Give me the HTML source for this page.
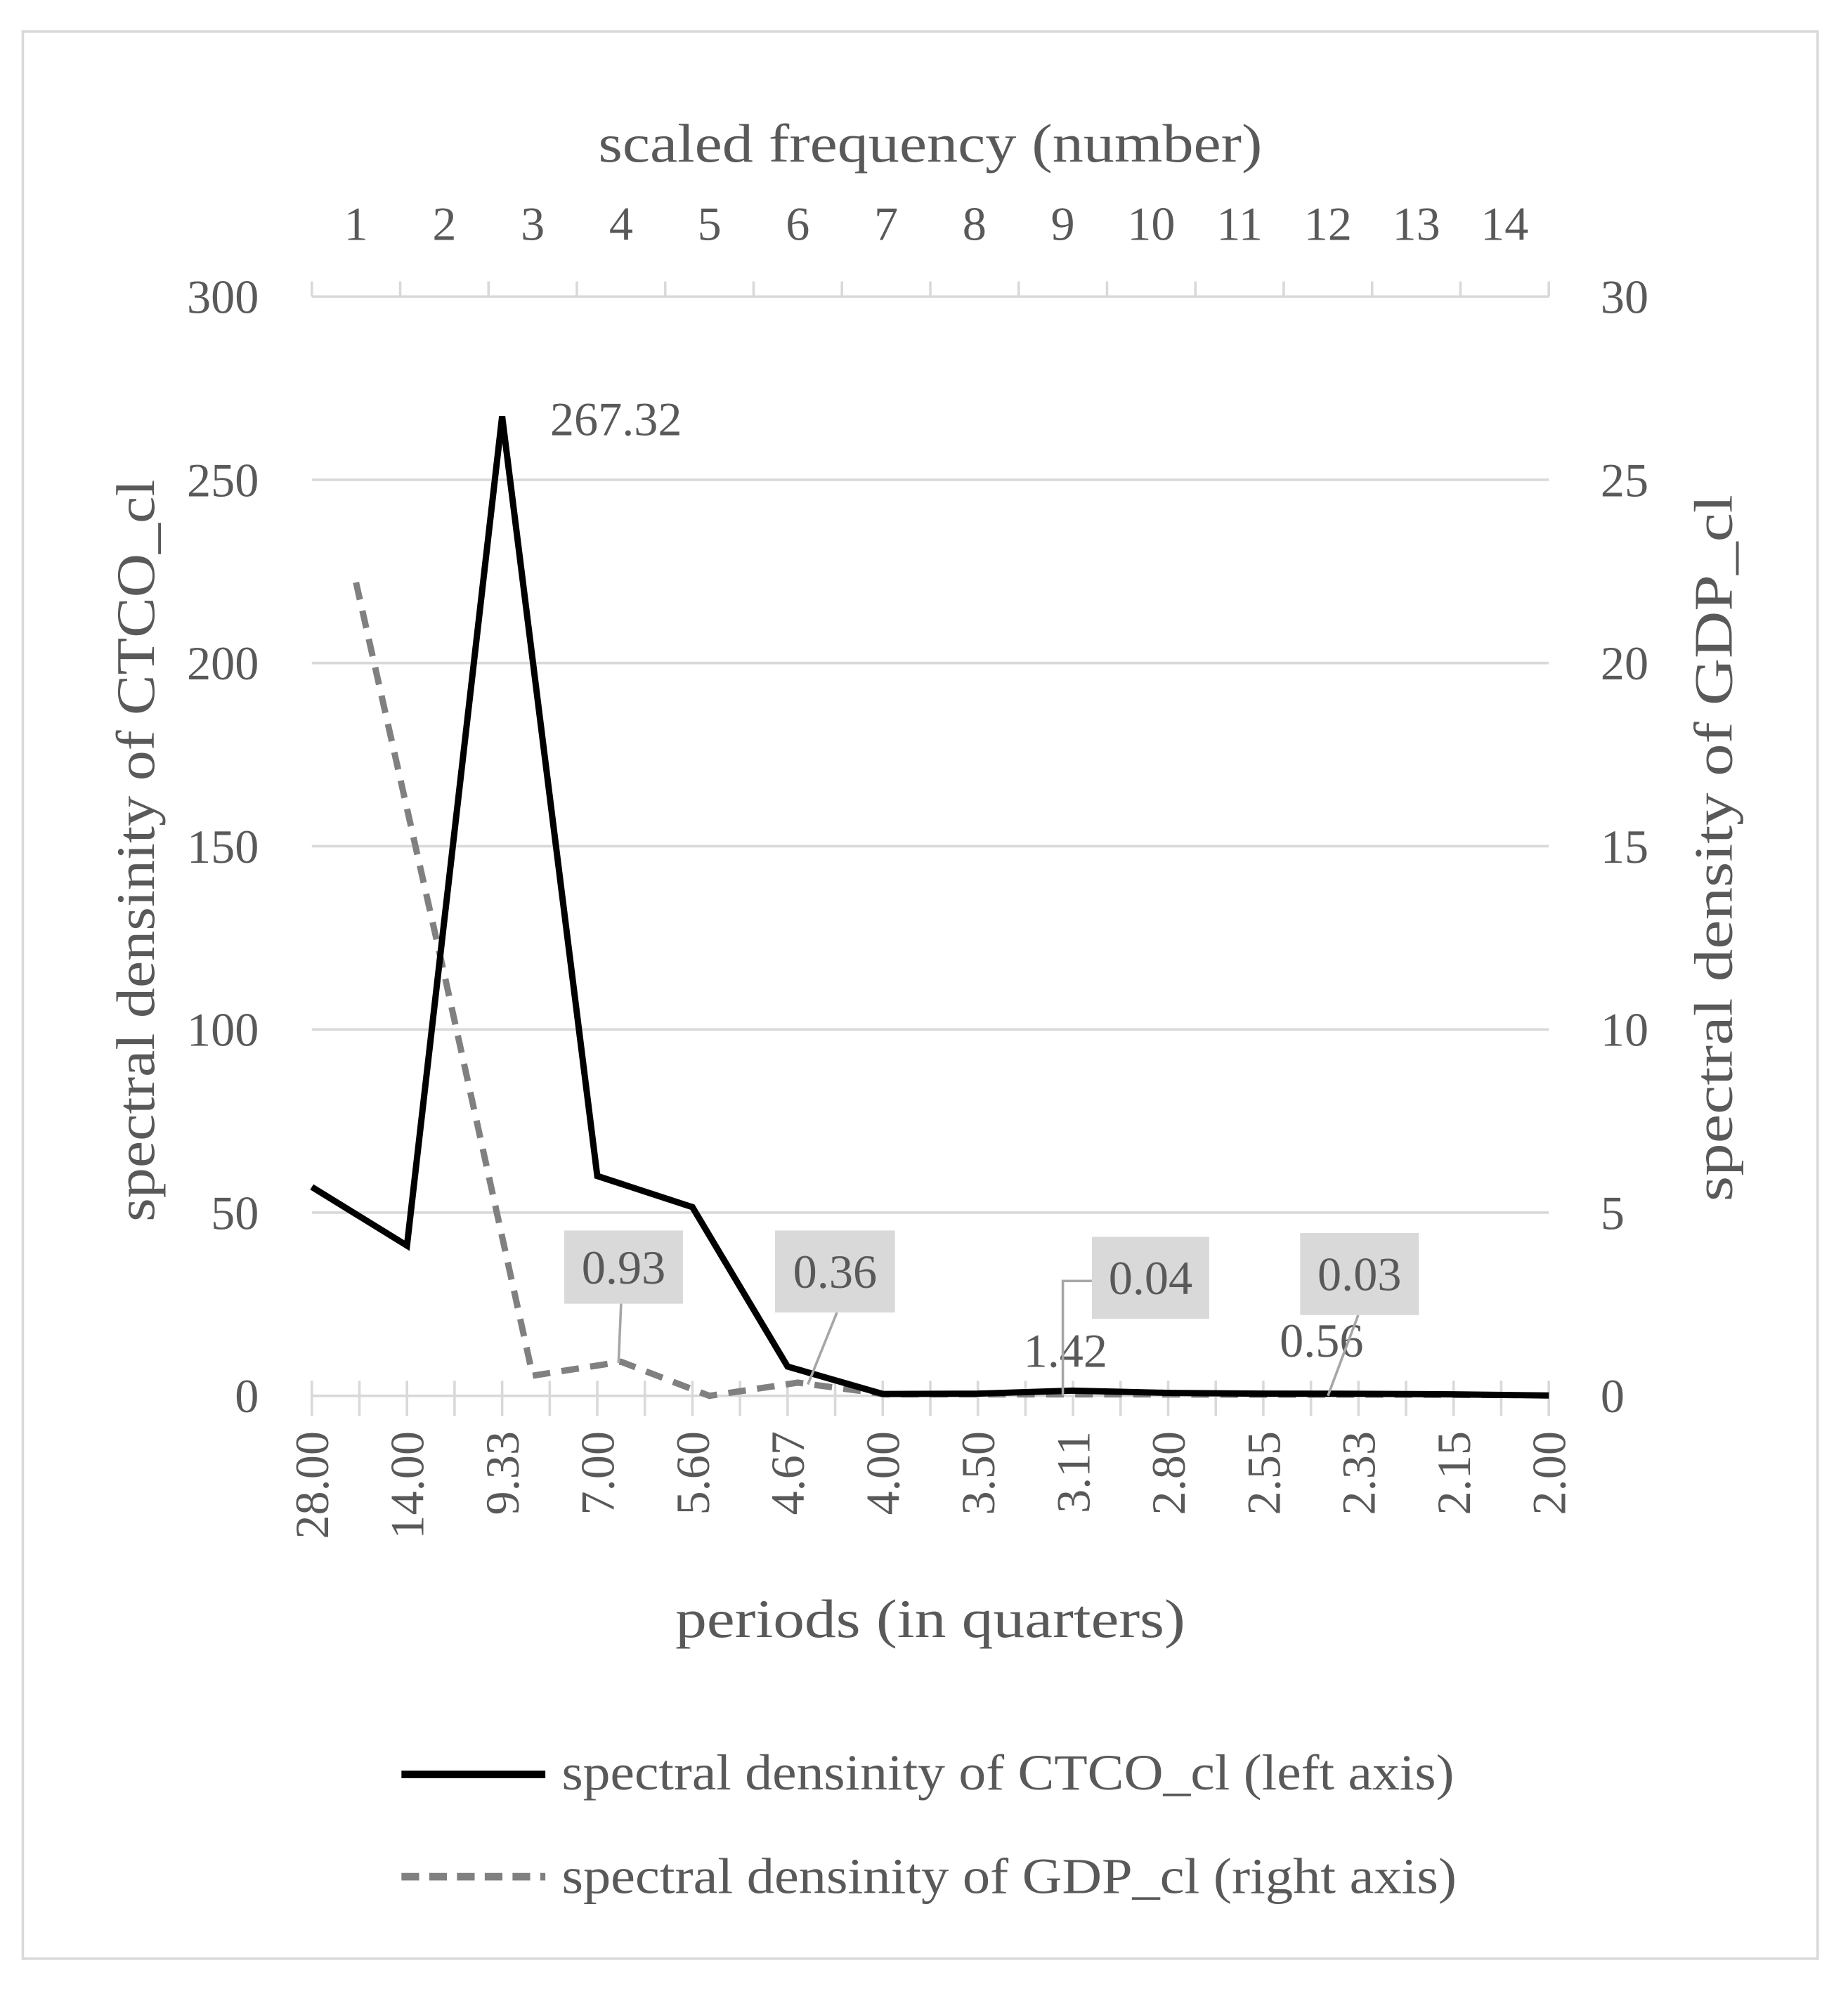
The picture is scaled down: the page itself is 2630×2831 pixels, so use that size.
<!DOCTYPE html>
<html><head><meta charset="utf-8"><style>
html,body{margin:0;padding:0;background:#fff;}
svg{display:block;}
text{font-family:"Liberation Serif",serif;fill:#595959;}
</style></head><body>
<svg id="chart" width="2630" height="2831" viewBox="0 0 1464 1576" xmlns="http://www.w3.org/2000/svg">
<rect x="18" y="25" width="1422" height="1527" fill="#fff" stroke="#d9d9d9" stroke-width="2"/>
<g id="grid"></g><g id="axes"></g><g id="series"></g><g id="labels"></g>
<text x="737" y="128" font-size="43" text-anchor="middle" textLength="526" lengthAdjust="spacingAndGlyphs">scaled frequency (number)</text>
<text x="737" y="1297" font-size="43" text-anchor="middle" textLength="404" lengthAdjust="spacingAndGlyphs">periods (in quarters)</text>
<text transform="translate(122,674) rotate(-90)" font-size="43" text-anchor="middle" textLength="588" lengthAdjust="spacingAndGlyphs">spectral densinity of CTCO_cl</text>
<text transform="translate(1372,672) rotate(-90)" font-size="43" text-anchor="middle" textLength="560" lengthAdjust="spacingAndGlyphs">spectral density of GDP_cl</text>
<g>
<line x1="318" y1="1406" x2="432" y2="1406" stroke="#000" stroke-width="6"/>
<text x="445" y="1418" font-size="40" textLength="707" lengthAdjust="spacingAndGlyphs">spectral densinity of CTCO_cl (left axis)</text>
<line x1="318" y1="1487" x2="432" y2="1487" stroke="#808080" stroke-width="6" stroke-dasharray="14 8"/>
<text x="445" y="1500" font-size="40" textLength="709" lengthAdjust="spacingAndGlyphs">spectral densinity of GDP_cl (right axis)</text>
</g>
</svg>
<script>
const periodLabels=["28.00","14.00","9.33","7.00","5.60","4.67","4.00","3.50","3.11","2.80","2.55","2.33","2.15","2.00"];
const freqLabels=["1","2","3","4","5","6","7","8","9","10","11","12","13","14"];
const ctcoValues=[57,41,267.32,60,51.5,8,0.5,0.6,1.42,0.8,0.6,0.56,0.4,0.1];
const gdpValues=[22.2,11.5,0.55,0.93,0.0,0.36,0.04,0.04,0.04,0.04,0.03,0.03,0.03,0.02];
const leftTicks=[0,50,100,150,200,250,300];
const rightTicks=[0,5,10,15,20,25,30];

const NS="http://www.w3.org/2000/svg";
const X0=247,X1=1227,Y0=1106,Y1=235;
const xb=i=>X0+(X1-X0)*i/(periodLabels.length-1);
const xt=i=>X0+(X1-X0)*(i+0.5)/freqLabels.length;
const yl=v=>Y0-(Y0-Y1)*v/300;
const yr=v=>Y0-(Y0-Y1)*v/30;
function mk(tag,attrs,parent,txt){const e=document.createElementNS(NS,tag);for(const k in attrs)e.setAttribute(k,attrs[k]);if(txt!==undefined)e.textContent=txt;document.getElementById(parent).appendChild(e);return e;}

leftTicks.forEach((v,i)=>{
  if(v>0&&v<300){const g=mk('line',{x1:X0,x2:X1,y1:yl(v),y2:yl(v),stroke:'#d9d9d9','stroke-width':2},'grid');
  
  }
  const t=mk('text',{x:205,y:yl(v)+13,'font-size':38,'text-anchor':'end'},'axes',String(v));
  
  
});
rightTicks.forEach(v=>{
  const t=mk('text',{x:1268,y:yr(v)+13,'font-size':38},'axes',String(v));
  
  
});
let a=mk('line',{x1:X0,x2:X1,y1:Y1,y2:Y1,stroke:'#d9d9d9','stroke-width':2},'axes');


for(let i=0;i<=freqLabels.length;i++){const x=X0+(X1-X0)*i/freqLabels.length;mk('line',{x1:x,x2:x,y1:Y1,y2:Y1-12,stroke:'#d9d9d9','stroke-width':2},'axes');}
freqLabels.forEach((l,i)=>{
  const t=mk('text',{x:xt(i),y:190,'font-size':38,'text-anchor':'middle'},'axes',l);
  
  
});
a=mk('line',{x1:X0,x2:X1,y1:Y0,y2:Y0,stroke:'#d9d9d9','stroke-width':2},'axes');


const nMinor=(periodLabels.length-1)*2;
for(let i=0;i<=nMinor;i++){const x=X0+(X1-X0)*i/nMinor;mk('line',{x1:x,x2:x,y1:Y0-12,y2:Y0+16,stroke:'#d9d9d9','stroke-width':2},'axes');}
periodLabels.forEach((l,i)=>{
  const t=mk('text',{transform:`translate(${xb(i)+13},1134) rotate(-90)`,'font-size':38,'text-anchor':'end'},'axes',l);
  
  
});
const gp=mk('polyline',{points:gdpValues.map((v,i)=>xt(i)+','+yr(v)).join(' '),fill:'none',stroke:'#808080','stroke-width':5,'stroke-dasharray':'14 9'},'series');


const cp=mk('polyline',{points:ctcoValues.map((v,i)=>xb(i)+','+yl(v)).join(' '),fill:'none',stroke:'#000','stroke-width':5,'stroke-linejoin':'miter'},'series');


let t=mk('text',{x:xb(2)+38,y:yl(ctcoValues[2])+15,'font-size':38,fill:'#404040'},'labels',ctcoValues[2].toFixed(2));


t=mk('text',{x:xb(8)-6,y:1083,'font-size':38,'text-anchor':'middle',fill:'#404040'},'labels',ctcoValues[8].toFixed(2));


t=mk('text',{x:1047,y:1075,'font-size':38,'text-anchor':'middle',fill:'#404040'},'labels',ctcoValues[11].toFixed(2));


const boxes=[[3,447,975,94,58,[[492,1033],[490,1080]]],[5,614,975,95,65,[[663,1040],[640,1097]]],[8,865,980,93,65,[[865,1015],[842,1015],[842,1106]]],[11,1030,977,94,65,[[1076,1042],[1052,1106]]]];
boxes.forEach(b=>{
  const l=mk('polyline',{points:b[5].map(p=>p.join(',')).join(' '),fill:'none',stroke:'#a6a6a6','stroke-width':2},'labels');
  
  
  const r=mk('rect',{x:b[1],y:b[2],width:b[3],height:b[4],fill:'#d9d9d9'},'labels');
  
  
  const tx=mk('text',{x:b[1]+b[3]/2,y:b[2]+b[4]/2+13,'font-size':38,'text-anchor':'middle',fill:'#404040'},'labels',gdpValues[b[0]].toFixed(2));
  
  
});
</script>
</body></html>
